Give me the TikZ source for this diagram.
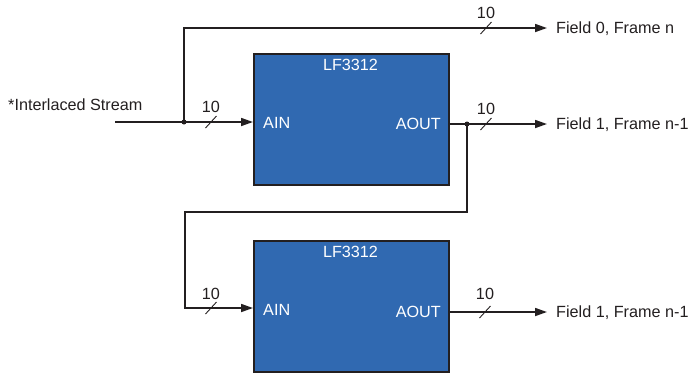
\documentclass[tikz,border=0pt]{standalone}
\usepackage{fontspec}
\setmainfont{Liberation Sans}
\usetikzlibrary{arrows.meta}
\definecolor{boxblue}{RGB}{48,105,177}
\definecolor{ink}{RGB}{35,31,32}
\newcommand\busmark[1]{\draw[ink, line width=0.9pt] (#1) ++(-5.5,6) -- ++(11,-12);}
\begin{document}
\begin{tikzpicture}[x=1pt,y=-1pt,
  chip/.style={draw=ink, line width=1.8pt, fill=boxblue, minimum width=195pt, minimum height=131pt, inner sep=0pt, anchor=north west},
  wire/.style={draw=ink, line width=1.7pt},
  arr/.style={wire, -{Triangle[length=12pt,width=8pt]}},
  lbl/.style={font=\fontsize{16.2}{19}\selectfont, text=ink, inner sep=0pt},
  wlbl/.style={font=\fontsize{16.2}{19}\selectfont, text=white, inner sep=0pt},
  jdot/.style={circle, fill=ink, inner sep=0pt, minimum size=5pt}]
\useasboundingbox (0,0) rectangle (689,373);
% chips
\node[chip] (b1) at (253,53) {};
\node[chip] (b2) at (253,240) {};
\node[wlbl] (t1) at (350.5,65) {LF3312};
\node[wlbl] (t2) at (350.5,252) {LF3312};
\node[wlbl, anchor=west] (ain1) at (263,123) {AIN};
\node[wlbl, anchor=east] (aout1) at (441,124) {AOUT};
\node[wlbl, anchor=west] (ain2) at (263,310) {AIN};
\node[wlbl, anchor=east] (aout2) at (441,312) {AOUT};
% external labels
\node[lbl, anchor=west] (src) at (8,105) {*Interlaced Stream};
\node[lbl, anchor=west] (f0) at (556,29) {Field 0, Frame n};
\node[lbl, anchor=west] (f1) at (556,125) {Field 1, Frame n-1};
\node[lbl, anchor=west] (f2) at (556,313) {Field 1, Frame n-1};
% coordinates
\coordinate (s) at (115,122);
\coordinate (j1) at (184,122);
\coordinate (o0) at (547,28);
\coordinate (j2) at (467,124);
\coordinate (o1) at (547,124);
\coordinate (r1) at (467,212);
\coordinate (l1) at (185,212);
\coordinate (in2) at (185,308);
\coordinate (o2) at (547,312);
% wires
\draw[wire] (s) -- (j1);
\draw[arr] (j1) -- (b1.west |- j1);
\draw[arr] (j1) |- (o0);
\draw[wire] (b1.east |- j2) -- (j2);
\draw[arr] (j2) -- (o1);
\draw[arr] (j2) -- (r1) -- (l1) -- (in2) -- (b2.west |- in2);
\draw[arr] (b2.east |- o2) -- (o2);
\node[jdot] (d1) at (j1) {};
\node[jdot] (d2) at (j2) {};
% bus marks
\coordinate (m0) at (486,28);
\coordinate (m1) at (211,122);
\coordinate (m2) at (486,124);
\coordinate (m3) at (211,308);
\coordinate (m4) at (485,312);
\busmark{m0}\busmark{m1}\busmark{m2}\busmark{m3}\busmark{m4}
\node[lbl] (n0) at (486,12.5) {10};
\node[lbl] (n1) at (211,107) {10};
\node[lbl] (n2) at (486,108.5) {10};
\node[lbl] (n3) at (211,294) {10};
\node[lbl] (n4) at (485,294) {10};
\end{tikzpicture}
\end{document}
